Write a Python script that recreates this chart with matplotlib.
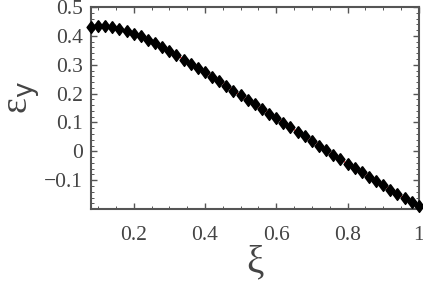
import numpy as np
import matplotlib
matplotlib.use("Agg")
from matplotlib import pyplot as plt
from matplotlib.ticker import MultipleLocator

xi = [0.08, 0.10, 0.12, 0.14, 0.16, 0.18, 0.20, 0.22, 0.24, 0.26,
      0.28, 0.30, 0.32, 0.34, 0.36, 0.38, 0.40, 0.42, 0.44, 0.46,
      0.48, 0.50, 0.52, 0.54, 0.56, 0.58, 0.60, 0.62, 0.64, 0.66,
      0.68, 0.70, 0.72, 0.74, 0.76, 0.78, 0.80, 0.82, 0.84, 0.86,
      0.88, 0.90, 0.92, 0.94, 0.96, 0.98, 1.00]
eps_y = [0.432, 0.433, 0.433, 0.430, 0.425, 0.417, 0.408, 0.398, 0.387, 0.374,
         0.361, 0.347, 0.333, 0.318, 0.303, 0.288, 0.274, 0.259, 0.243, 0.226,
         0.210, 0.194, 0.178, 0.163, 0.146, 0.131, 0.115, 0.099, 0.083, 0.067,
         0.052, 0.036, 0.019, 0.003, -0.013, -0.028, -0.043, -0.058, -0.073, -0.088,
         -0.103, -0.118, -0.133, -0.147, -0.161, -0.176, -0.190]

xticks = [0.2, 0.4, 0.6, 0.8, 1.0]
xticklabels = ["0.2", "0.4", "0.6", "0.8", "1"]
yticks = [-0.1, 0, 0.1, 0.2, 0.3, 0.4, 0.5]
yticklabels = ["\u22120.1", "0", "0.1", "0.2", "0.3", "0.4", "0.5"]

plt.rcParams["font.family"] = "Liberation Serif"
fig = plt.figure(figsize=(4.23, 2.81), dpi=100)
ax = fig.add_axes([0.215, 0.256, 0.775, 0.719])

# diamond a bit taller than wide, like the original
diamond = [(0, 1), (0.75, 0), (0, -1), (-0.75, 0), (0, 1)]

ax.plot(xi, eps_y, color="red", linewidth=0.8, zorder=2)
ax.plot(xi, eps_y, linestyle="none", marker=diamond, markersize=8.5,
        color="black", zorder=3, clip_on=False)

ax.set_xlim(0.08, 1.0)
ax.set_ylim(-0.2, 0.5)
ax.set_xticks(xticks)
ax.set_xticklabels(xticklabels)
ax.set_yticks(yticks)
ax.set_yticklabels(yticklabels)
ax.xaxis.set_minor_locator(MultipleLocator(0.05))
ax.yaxis.set_minor_locator(MultipleLocator(0.02))

frame_col = "#555555"
for s in ax.spines.values():
    s.set_color(frame_col)
    s.set_linewidth(1.5)
ax.tick_params(which="both", direction="in", top=True, right=True,
               color=frame_col, labelcolor="#444444", labelsize=15.5)
ax.tick_params(which="major", length=4, width=1)
ax.tick_params(which="minor", length=2, width=0.7)
ax.tick_params(axis="x", pad=12)
ax.tick_params(axis="y", pad=6)

ax.set_xlabel("\u03be", fontsize=28, color="#444444", labelpad=0)
ax.set_ylabel("\u03b5$_\\mathrm{y}$", fontsize=27, color="#444444")
ax.yaxis.set_label_coords(-0.15, 0.55)

fig.savefig("out.png", dpi=100)
